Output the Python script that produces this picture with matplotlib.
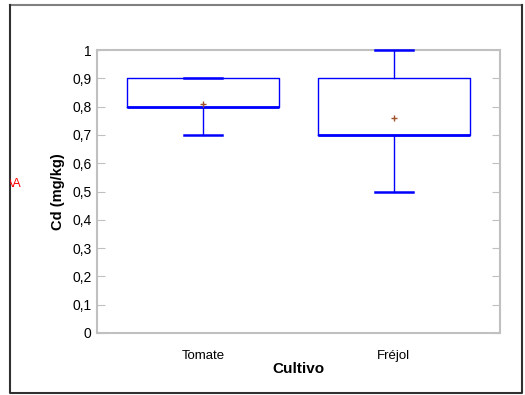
import matplotlib
matplotlib.use("Agg")
import matplotlib.pyplot as plt
from matplotlib.patches import Rectangle
from matplotlib.lines import Line2D

categories = ["Tomate", "Fréjol"]
whislo = [0.7, 0.5]
q1 = [0.8, 0.7]
med = [0.8, 0.7]
q3 = [0.9, 0.9]
whishi = [0.9, 1.0]
means = [0.81, 0.76]
yticks = [0, 0.1, 0.2, 0.3, 0.4, 0.5, 0.6, 0.7, 0.8, 0.9, 1]
ytick_labels = ["0", "0,1", "0,2", "0,3", "0,4", "0,5", "0,6", "0,7", "0,8", "0,9", "1"]

plt.rcParams['font.family'] = ['Liberation Sans', 'DejaVu Sans']

W, H = 525, 395
fig = plt.figure(figsize=(W / 100, H / 100), dpi=100)
ax = fig.add_axes([97 / W, 1 - 333 / H, 403 / W, 283 / H])

stats = []
for i, c in enumerate(categories):
    stats.append(dict(label=c, whislo=whislo[i], q1=q1[i], med=med[i], q3=q3[i],
                      whishi=whishi[i], mean=means[i], fliers=[]))

blue = "#0000ff"
art = ax.bxp(stats, positions=[1, 2], widths=0.8, showmeans=True,
             boxprops=dict(color=blue, linewidth=1.0),
             whiskerprops=dict(color=blue, linewidth=1.0),
             capprops=dict(color=blue, linewidth=1.8),
             medianprops=dict(color=blue, linewidth=2.0),
             meanprops=dict(marker='+', markeredgecolor='#a0522d', markersize=4, markeredgewidth=1.0),
             capwidths=0.2)
for group in art.values():
    for a in group:
        a.set_zorder(5)
        a.set_clip_on(False)

ax.set_xlim(0.44, 2.56)
ax.set_ylim(0, 1)
ax.set_yticks(yticks)
ax.set_yticklabels(ytick_labels, fontsize=10)
ax.tick_params(axis='y', direction='in', length=6, color='#c0c0c0', left=True, right=True, pad=4)
ax.tick_params(axis='x', length=0, pad=12, labelsize=9.5)
for s in ax.spines.values():
    s.set_color('#c0c0c0')
    s.set_linewidth(1.5)

ax.set_ylabel("Cd (mg/kg)", fontsize=10.5, fontweight='bold', labelpad=5)
ax.set_xlabel("Cultivo", fontsize=11, fontweight='bold', labelpad=0)

# outer frame
fl, fr, ft, fb = 10, 522, 5, 393
def fx(p): return p / W
def fy(p): return 1 - p / H
fig.add_artist(Line2D([fx(fl), fx(fr)], [fy(ft), fy(ft)], transform=fig.transFigure, color='#808080', linewidth=1.5))
fig.add_artist(Line2D([fx(fl), fx(fl), fx(fr), fx(fr)], [fy(ft), fy(fb), fy(fb), fy(ft)],
                      transform=fig.transFigure, color='#303030', linewidth=1.5))

t = fig.text(22 / W, 1 - 184 / H, "AA", color='red', fontsize=9, ha='right', va='center')
clip = Rectangle((fl / W, 0), 1, 1, transform=fig.transFigure)
t.set_clip_path(clip)
t.set_clip_on(True)

fig.savefig("out.png", dpi=100)
